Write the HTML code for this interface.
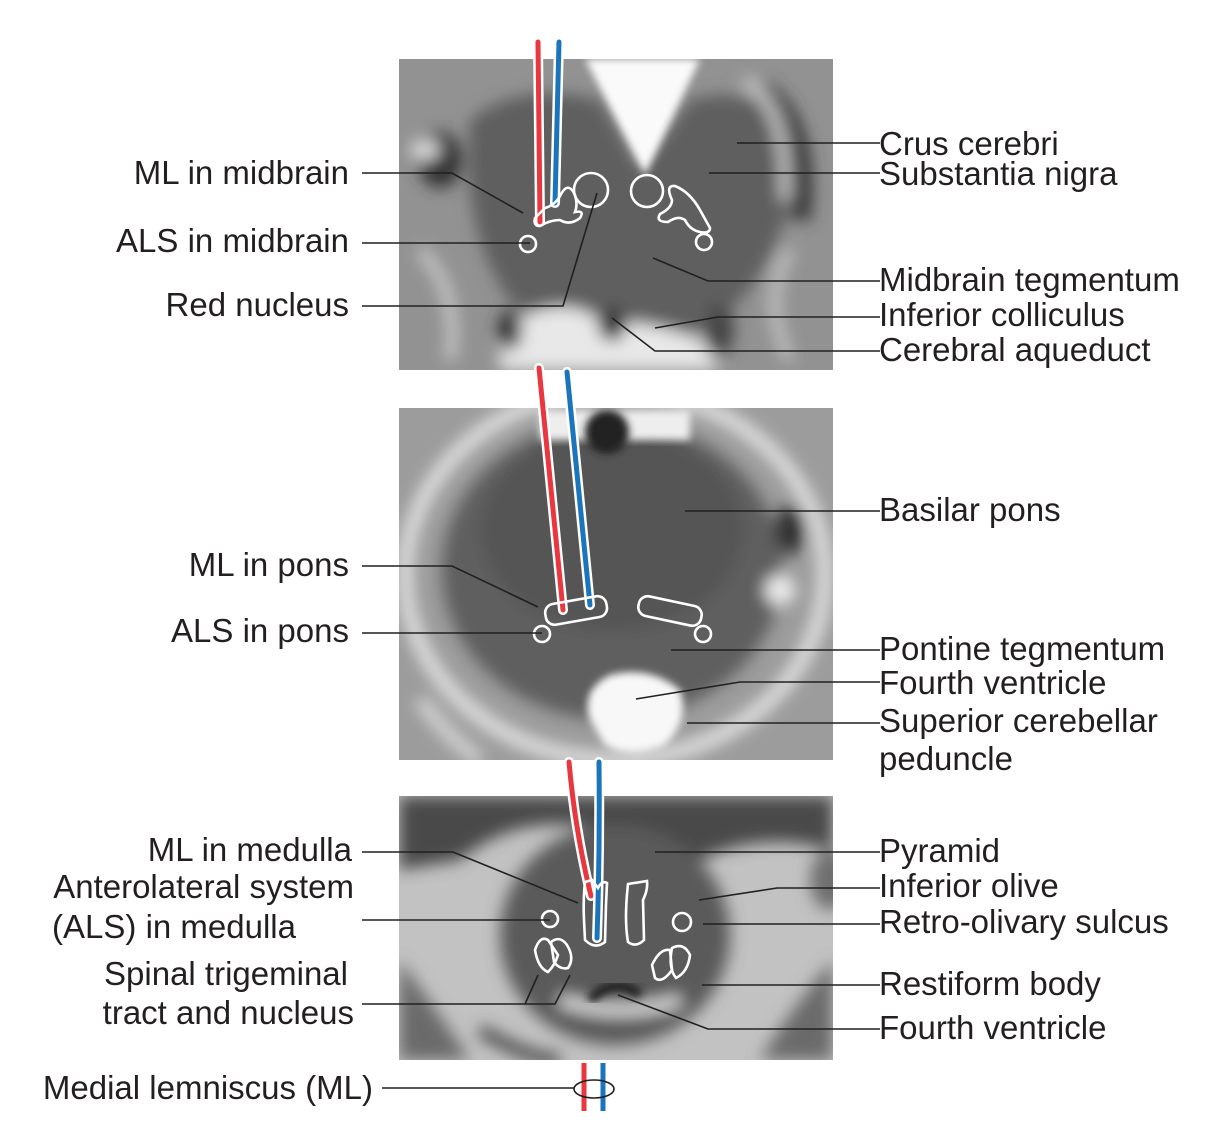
<!DOCTYPE html>
<html><head><meta charset="utf-8"><style>
html,body{margin:0;padding:0;background:#fff;}
svg{display:block;}
text{font-family:"Liberation Sans",Arial,sans-serif;font-size:33px;fill:#231f20;}
</style></head><body>
<svg width="1227" height="1142" viewBox="0 0 1227 1142" xmlns="http://www.w3.org/2000/svg">
<defs>
<filter id="b8" x="-20%" y="-20%" width="140%" height="140%"><feGaussianBlur stdDeviation="8"/></filter>
<filter id="b4" x="-20%" y="-20%" width="140%" height="140%"><feGaussianBlur stdDeviation="4"/></filter>
<clipPath id="c1"><rect x="399" y="59" width="434" height="311"/></clipPath>
<clipPath id="c2"><rect x="399" y="408" width="434" height="352"/></clipPath>
<clipPath id="c3"><rect x="399" y="796" width="434" height="264"/></clipPath>
</defs>

<!-- TOP PANEL -->
<g clip-path="url(#c1)">
<rect x="399" y="59" width="434" height="311" fill="#929292"/>
<g filter="url(#b8)">
<path d="M470 120 Q520 80 600 100 L640 170 L690 100 Q760 80 790 140 Q800 230 740 300 Q700 345 630 345 Q560 345 510 300 Q460 230 470 120Z" fill="#5e5e5e"/>
<path d="M760 90 Q810 120 800 220" stroke="#3a3a3a" stroke-width="22" fill="none"/>
<path d="M745 80 Q790 110 785 200" stroke="#cfcfcf" stroke-width="10" fill="none"/>
<ellipse cx="440" cy="160" rx="22" ry="28" fill="#333"/>
<ellipse cx="425" cy="150" rx="15" ry="10" fill="#ddd"/>
<path d="M500 330 Q560 290 600 320 Q650 320 700 340 L720 370 L500 370Z" fill="#e8e8e8"/>
<ellipse cx="510" cy="330" rx="12" ry="20" fill="#333"/>
<ellipse cx="612" cy="325" rx="14" ry="16" fill="#2e2e2e"/>
<ellipse cx="720" cy="330" rx="14" ry="25" fill="#444"/>
<path d="M420 250 Q460 290 450 360" stroke="#cfcfcf" stroke-width="10" fill="none"/>
<path d="M790 250 Q760 300 790 360" stroke="#c8c8c8" stroke-width="10" fill="none"/>
</g>
<polygon points="585,59 700,59 645,175" fill="#fafafa" filter="url(#b4)"/>
</g>

<!-- MIDDLE PANEL -->
<g clip-path="url(#c2)">
<rect x="399" y="408" width="434" height="352" fill="#9c9c9c"/>
<g filter="url(#b8)">
<ellipse cx="615" cy="575" rx="210" ry="185" fill="none" stroke="#e6e6e6" stroke-width="14"/>
<ellipse cx="612" cy="570" rx="170" ry="150" fill="#5f5f5f"/>
<ellipse cx="612" cy="530" rx="130" ry="100" fill="#555"/>
<ellipse cx="790" cy="530" rx="15" ry="25" fill="#333"/>
<ellipse cx="780" cy="590" rx="15" ry="15" fill="#eee"/>
<path d="M420 700 Q450 740 480 760" stroke="#ddd" stroke-width="12" fill="none"/>
</g>
<rect x="540" y="410" width="150" height="30" fill="#eee" filter="url(#b4)"/>
<circle cx="607" cy="432" r="22" fill="#222" filter="url(#b4)"/>
<path d="M590 720 Q580 690 610 675 Q650 665 680 690 Q690 720 665 745 Q630 760 605 745Z" fill="#f8f8f8" filter="url(#b4)"/>
</g>

<!-- BOTTOM PANEL -->
<g clip-path="url(#c3)">
<rect x="399" y="796" width="434" height="264" fill="#c2c2c2"/>
<g filter="url(#b8)">
<path d="M399 796 L833 796 L833 850 Q760 830 700 860 Q650 820 600 830 Q520 810 460 860 L399 870Z" fill="#4a4a4a"/>
<ellipse cx="615" cy="935" rx="115" ry="110" fill="#5a5a5a"/>
<path d="M399 960 Q430 1000 470 1060 L399 1060Z" fill="#6a6a6a"/>
<path d="M833 960 Q790 1010 760 1060 L833 1060Z" fill="#6a6a6a"/>
<path d="M480 1030 Q530 1060 560 1060" stroke="#444" stroke-width="12" fill="none"/>
<ellipse cx="830" cy="880" rx="20" ry="30" fill="#6e6e6e"/>
<path d="M560 1000 Q620 1020 680 1000" stroke="#eee" stroke-width="10" fill="none"/>
</g>
<path d="M590 1000 Q615 975 640 995" stroke="#222" stroke-width="10" fill="none" filter="url(#b4)"/>
</g>

<!-- tract lines -->
<g fill="none" stroke-linecap="round">
<path d="M538 42 L540 222" stroke="#fff" stroke-width="10"/>
<path d="M538 42 L540 222" stroke="#e8373f" stroke-width="5"/>
<path d="M559 42 L555 203" stroke="#fff" stroke-width="10"/>
<path d="M559 42 L555 203" stroke="#1a75bc" stroke-width="5"/>
<path d="M539 368 L563 610" stroke="#fff" stroke-width="10"/>
<path d="M539 368 L563 610" stroke="#e8373f" stroke-width="5"/>
<path d="M567 372 L590 605" stroke="#fff" stroke-width="10"/>
<path d="M567 372 L590 605" stroke="#1a75bc" stroke-width="5"/>
<path d="M569 762 Q575 830 591 896" stroke="#fff" stroke-width="10"/>
<path d="M569 762 Q575 830 591 896" stroke="#e8373f" stroke-width="5"/>
<path d="M599 762 Q600 850 597 938" stroke="#fff" stroke-width="10"/>
<path d="M599 762 Q600 850 597 938" stroke="#1a75bc" stroke-width="5"/>
<path d="M584 1063 L584 1111" stroke="#e8373f" stroke-width="5" stroke-linecap="butt"/>
<path d="M603 1063 L603 1111" stroke="#1a75bc" stroke-width="5" stroke-linecap="butt"/>
</g>

<!-- white outlines -->
<g fill="none" stroke="#fff" stroke-width="2.6">
<circle cx="591" cy="190" r="17"/>
<path d="M560 196 Q568 180 575 195 Q578 205 575 212 Q585 210 580 218 Q570 226 560 220 Q550 220 540 226 Q533 226 535 218 L545 208 Q555 205 560 196Z"/>
<circle cx="528" cy="244" r="8"/>
<circle cx="647" cy="191" r="16"/>
<path d="M675 186 Q690 192 700 210 L710 228 Q710 234 700 232 Q690 230 685 220 Q678 215 668 222 Q655 222 660 214 Q672 208 672 200 Q665 185 675 186Z"/>
<circle cx="704" cy="242" r="8"/>
<rect x="545" y="600" width="62" height="21" rx="9" transform="rotate(-10 576 610)"/>
<rect x="638" y="601" width="64" height="20" rx="9" transform="rotate(12 670 611)"/>
<circle cx="542" cy="634" r="8"/>
<circle cx="703" cy="634" r="8"/>
<path d="M585 882 Q583 900 584 920 L585 940 Q595 950 605 942 L606 905 L607 883 Q602 880 598 888 L592 880Z"/>
<path d="M628 884 L647 881 Q648 890 643 900 L644 940 Q636 948 628 942 Q624 920 628 884Z"/>
<circle cx="550" cy="919" r="8"/>
<circle cx="682" cy="922" r="9"/>
<path d="M535 950 Q540 935 548 940 L558 955 Q555 965 548 972 Q538 968 535 950Z"/>
<path d="M551 942 Q560 935 567 945 Q575 958 568 968 Q560 970 554 962Z"/>
<path d="M652 965 Q660 948 670 950 L672 970 Q662 984 655 978Z"/>
<path d="M672 948 Q684 942 690 955 Q688 972 676 978 Q668 968 672 948Z"/>
</g>

<!-- leaders -->
<g fill="none" stroke="#231f20" stroke-width="1.6">
<polyline points="362,173 452,173 523,213"/>
<polyline points="362,243 530,243"/>
<polyline points="362,306 563,306 597,193"/>
<polyline points="737,143 880,143"/>
<polyline points="709,173 880,173"/>
<polyline points="653,258 708,281 880,281"/>
<polyline points="655,328 718,317 880,317"/>
<polyline points="612,318 655,351 880,351"/>
<polyline points="362,566 452,566 538,607"/>
<polyline points="362,633 542,633"/>
<polyline points="685,511 880,511"/>
<polyline points="671,650 880,650"/>
<polyline points="636,699 740,682 880,682"/>
<polyline points="687,723 880,723"/>
<polyline points="362,852 453,852 578,903"/>
<polyline points="362,920 550,920"/>
<polyline points="362,1004 555,1004 570,975"/>
<polyline points="525,1004 538,975"/>
<polyline points="655,852 880,852"/>
<polyline points="699,900 777,888 880,888"/>
<polyline points="703,924 880,924"/>
<polyline points="702,985 880,985"/>
<polyline points="618,995 708,1029 880,1029"/>
<polyline points="382,1088 574,1088"/>
<ellipse cx="594" cy="1089" rx="20" ry="9"/>
</g>

<!-- labels -->
<g text-anchor="end">
<text x="349" y="184">ML in midbrain</text>
<text x="349" y="252">ALS in midbrain</text>
<text x="349" y="316">Red nucleus</text>
<text x="349" y="576">ML in pons</text>
<text x="349" y="642">ALS in pons</text>
<text x="352" y="861">ML in medulla</text>
<text x="354" y="898">Anterolateral system</text>
<text x="296" y="938">(ALS) in medulla</text>
<text x="348" y="985">Spinal trigeminal</text>
<text x="354" y="1024">tract and nucleus</text>
<text x="373" y="1099">Medial lemniscus (ML)</text>
</g>
<g>
<text x="879" y="155">Crus cerebri</text>
<text x="879" y="185">Substantia nigra</text>
<text x="879" y="291">Midbrain tegmentum</text>
<text x="879" y="326">Inferior colliculus</text>
<text x="879" y="361">Cerebral aqueduct</text>
<text x="879" y="521">Basilar pons</text>
<text x="879" y="660">Pontine tegmentum</text>
<text x="879" y="694">Fourth ventricle</text>
<text x="879" y="732">Superior cerebellar</text>
<text x="879" y="770">peduncle</text>
<text x="879" y="862">Pyramid</text>
<text x="879" y="897">Inferior olive</text>
<text x="879" y="933">Retro-olivary sulcus</text>
<text x="879" y="995">Restiform body</text>
<text x="879" y="1039">Fourth ventricle</text>
</g>
</svg>
</body></html>
